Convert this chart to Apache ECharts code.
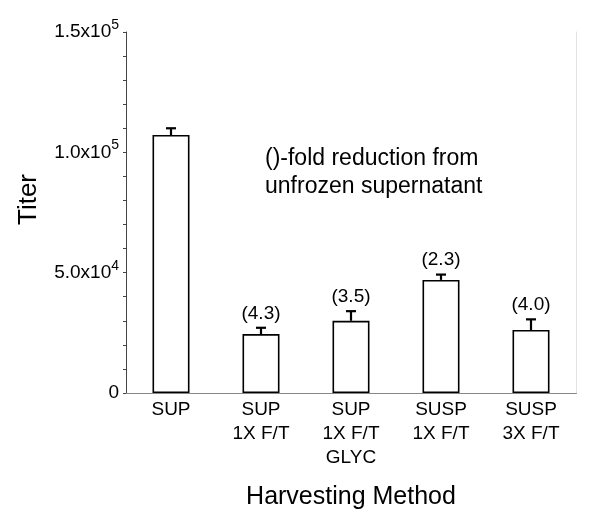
<!doctype html>
<html>
<head>
<meta charset="UTF-8">
<title>Titer by harvesting method</title>
<script src="https://cdn.jsdelivr.net/npm/echarts@6/dist/echarts.min.js"></script>
<style>
  html, body { margin: 0; padding: 0; background: #fff; }
  #main { width: 600px; height: 520px; }
</style>
</head>
<body>
<div id="main"></div>
<script type="text/javascript">
// data
var categories = ['SUP', 'SUP\n1X F/T', 'SUP\n1X F/T\nGLYC', 'SUSP\n1X F/T', 'SUSP\n3X F/T'];
var titer = [107200, 24500, 30000, 47000, 26200];
var titerErr = [2800, 2600, 4000, 2200, 4400];
var foldLabels = ['', '(4.3)', '(3.5)', '(2.3)', '(4.0)'];
var yTickLabels = { 0: '0', 50000: '5.0x10|4', 100000: '1.0x10|5', 150000: '1.5x10|5' };

var font = 'Liberation Sans, Arial, Helvetica, sans-serif';

var errData = [];
for (var i = 0; i < categories.length; i++) {
    errData.push([i, titer[i], titer[i] + titerErr[i], foldLabels[i]]);
}

var myChart = echarts.init(document.getElementById('main'));

var option = {
    animation: false,
    backgroundColor: '#fff',
    grid: { left: 126, right: 24, top: 32, bottom: 127, containLabel: false },
    graphic: [{
        type: 'text',
        left: 265,
        top: 145,
        style: {
            text: '()-fold reduction from\nunfrozen supernatant',
            font: '23px ' + font,
            lineHeight: 28,
            fill: '#000'
        }
    }],
    xAxis: [{
        type: 'category',
        data: categories,
        name: 'Harvesting Method',
        nameLocation: 'middle',
        nameGap: 92,
        nameTextStyle: { fontFamily: font, fontSize: 25, color: '#000' },
        axisLine: { lineStyle: { color: '#444', width: 1 } },
        axisTick: { show: false },
        axisLabel: { fontFamily: font, fontSize: 19, lineHeight: 24, color: '#000', margin: 5 }
    }, {
        type: 'category',
        data: categories,
        position: 'top',
        axisLine: { lineStyle: { color: '#888', width: 1 } },
        axisTick: { show: false },
        axisLabel: { show: false }
    }],
    yAxis: [{
        type: 'value',
        min: 0,
        max: 150000,
        interval: 10000,
        name: 'Titer',
        nameLocation: 'middle',
        nameGap: 84,
        nameRotate: 90,
        nameTextStyle: { fontFamily: font, fontSize: 26, color: '#000', padding: [0, 0, 0, 26] },
        splitLine: { show: false },
        axisLine: { show: true, lineStyle: { color: '#444', width: 1 } },
        axisTick: { show: true, length: 3, lineStyle: { color: '#444' } },
        axisLabel: {
            margin: 7,
            formatter: function (v) {
                var t = yTickLabels[v];
                if (t === undefined) return '';
                var p = t.split('|');
                if (p.length === 1) return '{b|' + p[0] + '}';
                return '{b|' + p[0] + '}{s|' + p[1] + '}';
            },
            rich: {
                b: { fontFamily: font, fontSize: 19, color: '#000' },
                s: { fontFamily: font, fontSize: 14, color: '#000', padding: [0, 0, 14, 0] }
            }
        }
    }, {
        type: 'value',
        min: 0,
        max: 150000,
        position: 'right',
        splitLine: { show: false },
        axisLine: { show: true, lineStyle: { color: '#ddd', width: 1, type: 'dotted' } },
        axisTick: { show: false },
        axisLabel: { show: false }
    }],
    series: [{
        type: 'bar',
        data: titer,
        barWidth: 37,
        itemStyle: { color: '#fff', borderColor: '#000', borderWidth: 1.6 },
        z: 2
    }, {
        type: 'custom',
        data: errData,
        z: 3,
        renderItem: function (params, api) {
            var base = api.coord([api.value(0), api.value(1)]);
            var cap = api.coord([api.value(0), api.value(2)]);
            var x = base[0];
            var style = { stroke: '#000', lineWidth: 2.2 };
            return {
                type: 'group',
                children: [{
                    type: 'line',
                    shape: { x1: x, y1: base[1], x2: x, y2: cap[1] },
                    style: style
                }, {
                    type: 'line',
                    shape: { x1: x - 5, y1: cap[1], x2: x + 5, y2: cap[1] },
                    style: style
                }, {
                    type: 'text',
                    style: {
                        text: api.value(3),
                        x: x,
                        y: cap[1] - 5,
                        align: 'center',
                        verticalAlign: 'bottom',
                        font: '19px ' + font,
                        fill: '#000'
                    }
                }]
            };
        }
    }]
};

myChart.setOption(option);
</script>
</body>
</html>
